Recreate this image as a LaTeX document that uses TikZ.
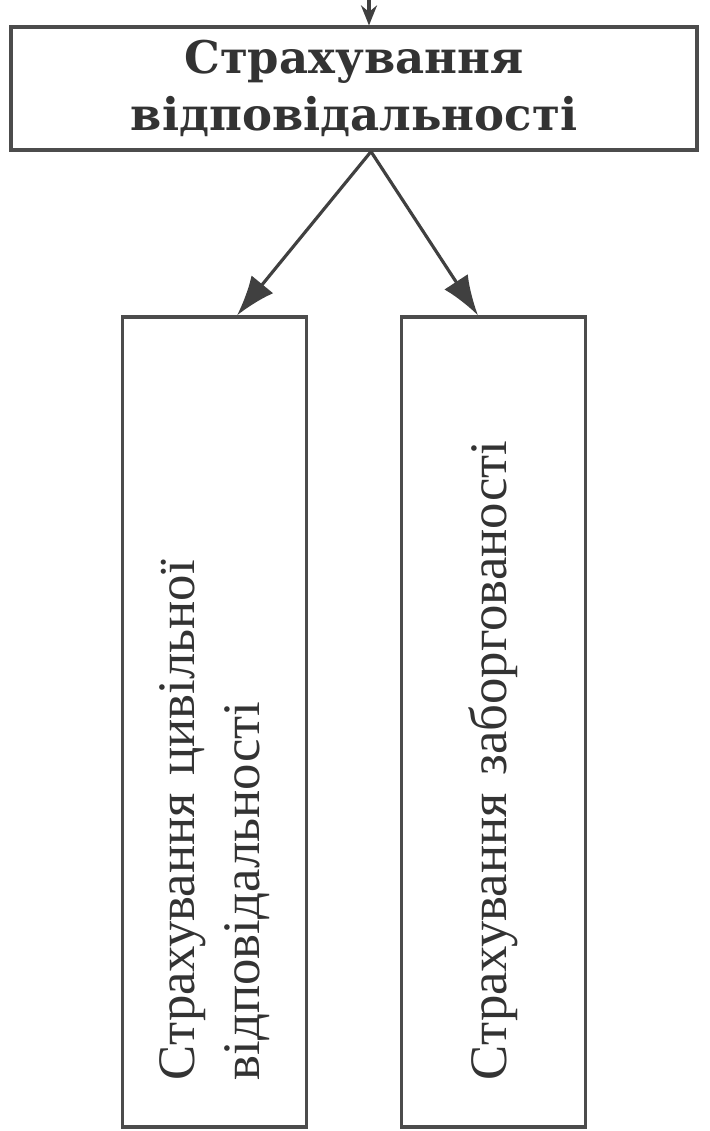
\documentclass[tikz,border=0pt]{standalone}
\usepackage{fontspec}
\setmainfont{Liberation Serif}
\newfontfamily\headfont{DejaVu Serif}
\usetikzlibrary{trees}
\usetikzlibrary{arrows.meta}

\begin{document}
\begin{tikzpicture}
        [
          grow=down,
          level distance=6.335cm,
          sibling distance=2.79cm,
          edge from parent/.style={draw, black!75, line width=0.9pt, -{Latex[length=0.4cm,width=0.28cm]}},
          every node/.style={align=center, text=black!80},
          topbox/.style={draw=black!70, line width=0.9pt, minimum width=6.86cm, minimum height=1.23cm, font=\headfont\bfseries\fontsize{12.8}{16.2}\selectfont},
          sidebox/.style={draw=black!70, line width=0.9pt, rotate=90, minimum height=1.84cm, text width=7.16cm, inner xsep=0.47cm, align=left, font=\fontsize{15}{18.5}\selectfont}
        ]
        \useasboundingbox (0,0) rectangle (7.09,-11.31);

        \coordinate (in) at (3.69,0);
        \node[topbox] (resp) at (3.54,-0.885) {Страхування\\відповідальності}
          child[edge from parent path={([xshift=0.17cm]\tikzparentnode.south) -- ([xshift=0.225cm]\tikzchildnode.east)}] {
            node[sidebox] (civil) {Страхування цивільної\\відповідальності}
          }
          child[edge from parent path={([xshift=0.17cm]\tikzparentnode.south) -- ([xshift=-0.155cm]\tikzchildnode.east)}] {
            node[sidebox] (debt) {Страхування заборгованості}
          };
        \draw[black!75, line width=0.9pt, -{Stealth[length=0.2cm,width=0.16cm]}] (in) -- (in |- resp.north);
\end{tikzpicture}
\end{document}
